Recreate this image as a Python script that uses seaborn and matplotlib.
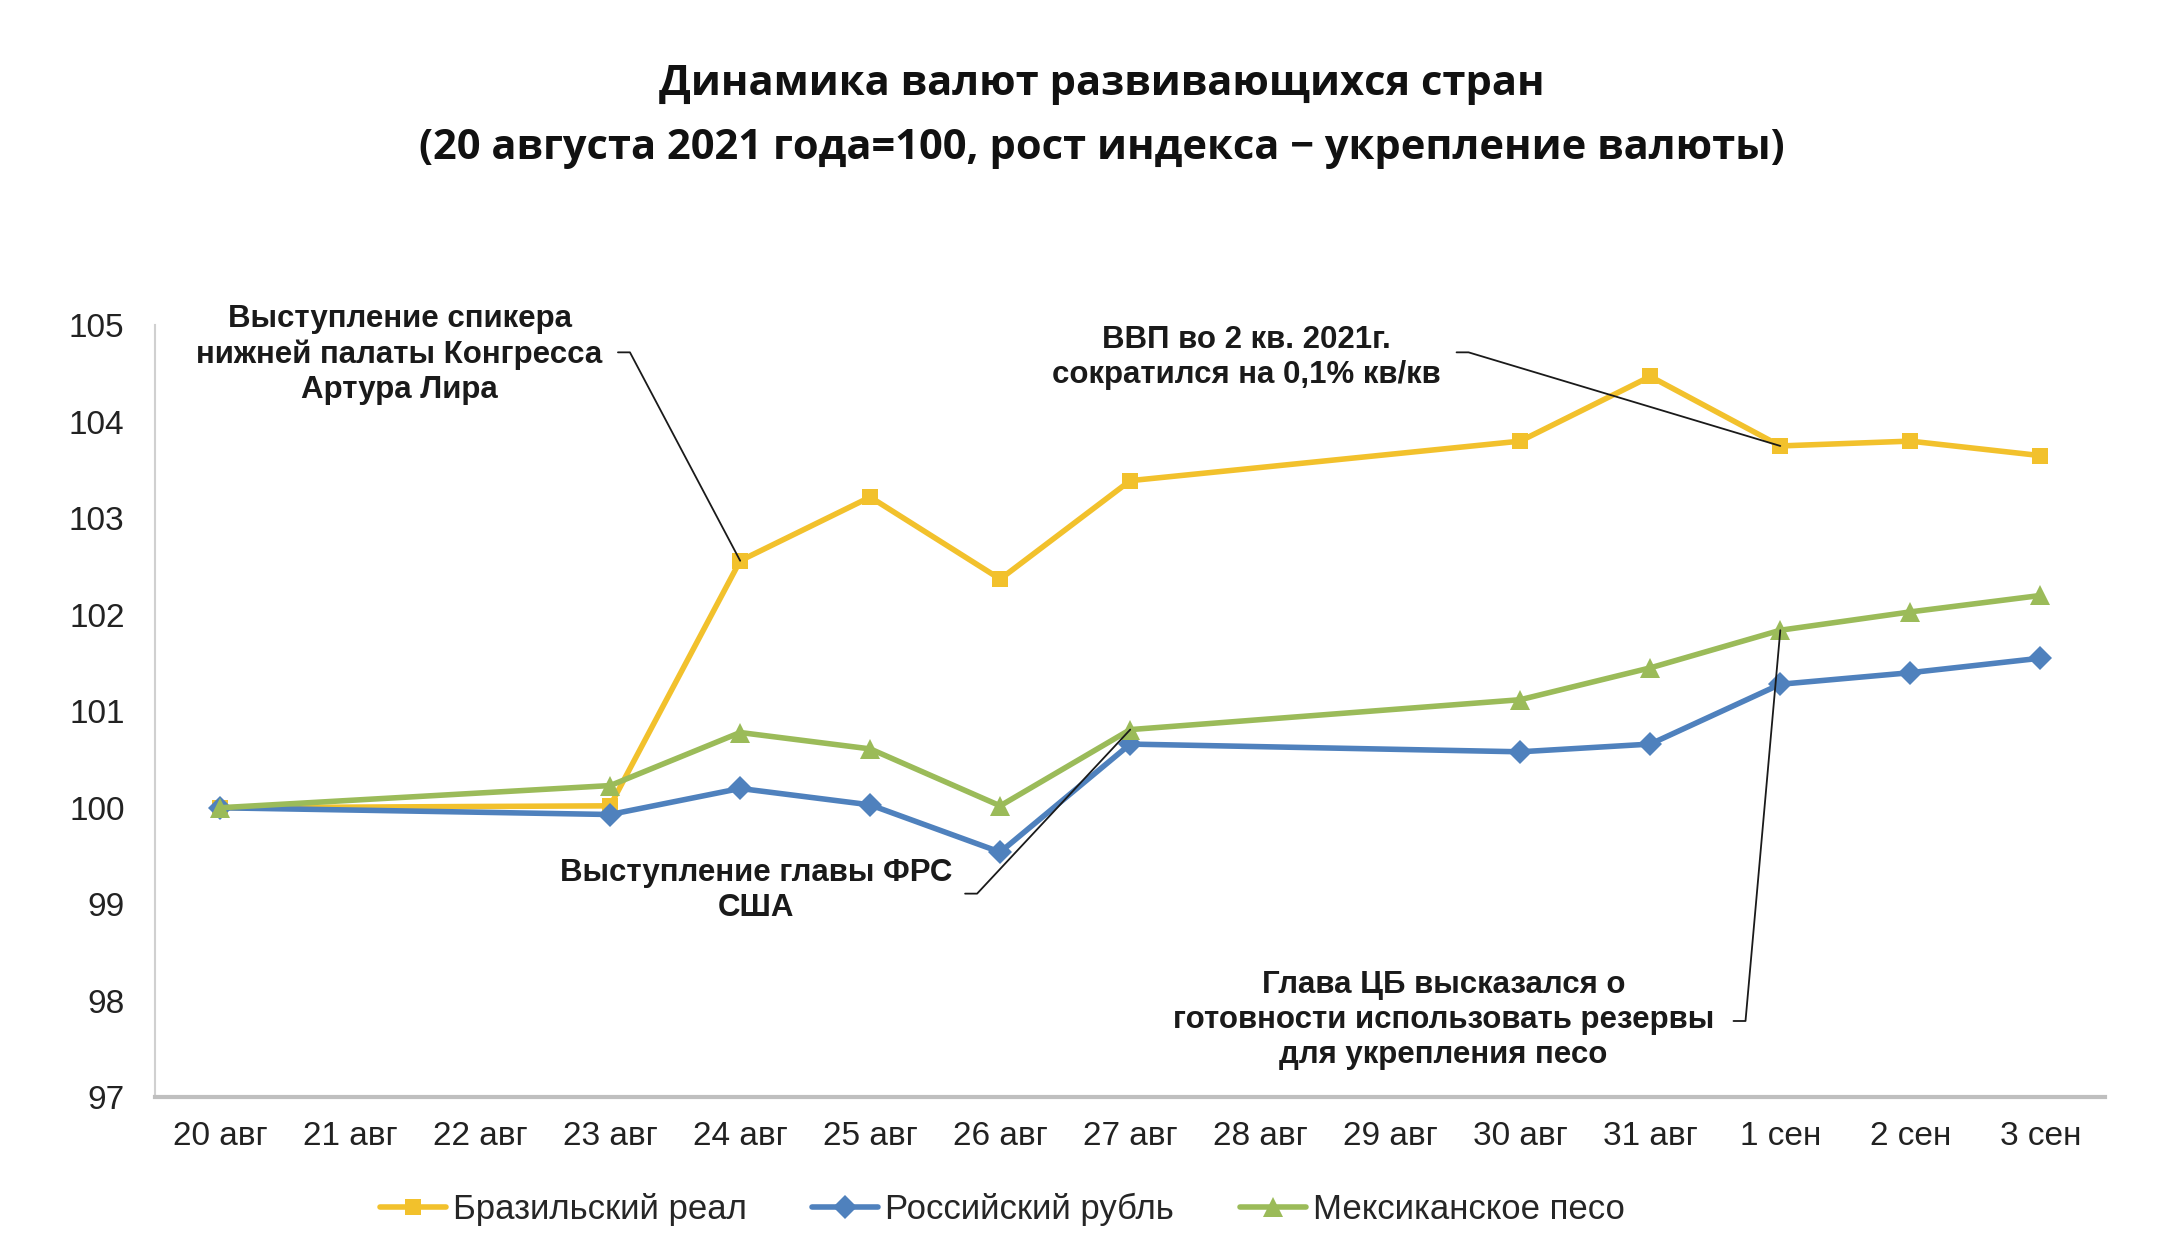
import pandas as pd
import seaborn as sns
import matplotlib.pyplot as plt
from matplotlib.lines import Line2D

# Day labels on the category axis (every calendar day)
day_labels = ["20 авг", "21 авг", "22 авг", "23 авг", "24 авг", "25 авг", "26 авг",
              "27 авг", "28 авг", "29 авг", "30 авг", "31 авг", "1 сен", "2 сен", "3 сен"]
# Trading days that have values
trade_days = ["20 авг", "23 авг", "24 авг", "25 авг", "26 авг", "27 авг",
              "30 авг", "31 авг", "1 сен", "2 сен", "3 сен"]

brl = [100.0, 100.02, 102.56, 103.22, 102.37, 103.39, 103.80, 104.47, 103.75, 103.80, 103.65]
rub = [100.0, 99.93, 100.20, 100.03, 99.54, 100.66, 100.58, 100.66, 101.28, 101.40, 101.55]
mxn = [100.0, 100.23, 100.78, 100.61, 100.02, 100.81, 101.12, 101.45, 101.84, 102.03, 102.20]

series_names = ["Бразильский реал", "Российский рубль", "Мексиканское песо"]
colors = ["#F2C12C", "#4F81BD", "#9BBB59"]
markers = ["s", "D", "^"]
marker_sizes = [12, 12, 15]

title = "Динамика валют развивающихся стран\n(20 августа 2021 года=100, рост индекса − укрепление валюты)"

# long-form table for seaborn
rows = []
for name, vals in zip(series_names, [brl, rub, mxn]):
    for d, v in zip(trade_days, vals):
        rows.append({"pos": day_labels.index(d), "value": v, "series": name})
df = pd.DataFrame(rows)

sns.set_theme(style="white")
plt.rcParams["font.family"] = ["Liberation Sans", "DejaVu Sans"]

fig = plt.figure(figsize=(21.6, 12.37), dpi=100)
ax = fig.add_axes([0.0718, 0.113, 0.9029, 0.624])

sns.lineplot(data=df, x="pos", y="value", hue="series", style="series",
             hue_order=series_names, style_order=series_names,
             palette=colors, markers=markers, dashes=False,
             linewidth=4, markersize=12, markeredgewidth=0, legend=False, ax=ax)
for line, ms in zip(ax.lines, marker_sizes):
    line.set_markersize(ms)

ax.set_xlim(-0.5, len(day_labels) - 0.5)
ax.set_ylim(97, 105)
ax.set_xticks(range(len(day_labels)))
ax.set_xticklabels(day_labels)
ax.set_xticks([i - 0.5 for i in range(len(day_labels) + 1)], minor=True)
ax.set_yticks(range(97, 106))
ax.set_xlabel("")
ax.set_ylabel("")

ax.tick_params(axis="x", which="major", length=0, pad=17, labelsize=24, labelcolor="#222222")
ax.tick_params(axis="x", which="minor", length=10, width=1.5, color="#BFBFBF", direction="out")
ax.tick_params(axis="y", which="major", length=7, width=1.5, color="#BFBFBF",
               direction="out", pad=15, labelsize=24, labelcolor="#222222")

for s in ["top", "right"]:
    ax.spines[s].set_visible(False)
ax.spines["left"].set_color("#D0D0D0")
ax.spines["left"].set_linewidth(1.5)
ax.spines["bottom"].set_color("#BFBFBF")
ax.spines["bottom"].set_linewidth(3)

fig.text(0.51, 0.906, title, ha="center", va="center", fontsize=30, fontweight="bold",
         family=["Open Sans", "DejaVu Sans"], linespacing=1.75, color="#111111")

# annotations: (text, text centre, leader start, target)
notes = [
    ("Выступление спикера\nнижней палаты Конгресса\nАртура Лира", (1.38, 104.70), (3.06, 104.72), (4, 102.56)),
    ("ВВП во 2 кв. 2021г.\nсократился на 0,1% кв/кв", (7.89, 104.67), (9.51, 104.72), (12, 103.75)),
    ("Выступление главы ФРС\nСША", (4.12, 99.14), (5.73, 99.11), (7, 100.81)),
    ("Глава ЦБ высказался о\nготовности использовать резервы\nдля укрепления песо", (9.41, 97.80), (11.64, 97.79), (12, 101.84)),
]
for txt, tpos, start, target in notes:
    ax.text(tpos[0], tpos[1], txt, ha="center", va="center", fontsize=22.5,
            fontweight="bold", color="#1a1a1a", linespacing=1.22)
    ax.annotate("", xy=target, xytext=start,
                arrowprops=dict(arrowstyle="-", color="#1a1a1a", lw=1.3,
                                shrinkA=0, shrinkB=0,
                                connectionstyle="arc,angleA=0,armA=12,angleB=0,armB=0,rad=0"))

handles = [Line2D([0], [0], color=c, marker=m, lw=4, markersize=ms, markeredgewidth=0)
           for c, m, ms in zip(colors, markers, marker_sizes)]
fig.legend(handles, series_names, loc="center", bbox_to_anchor=(0.464, 0.022), ncol=3,
           frameon=False, fontsize=25, handlelength=1.9, columnspacing=1.9, handletextpad=0.2)

fig.savefig("out.png", dpi=100)
